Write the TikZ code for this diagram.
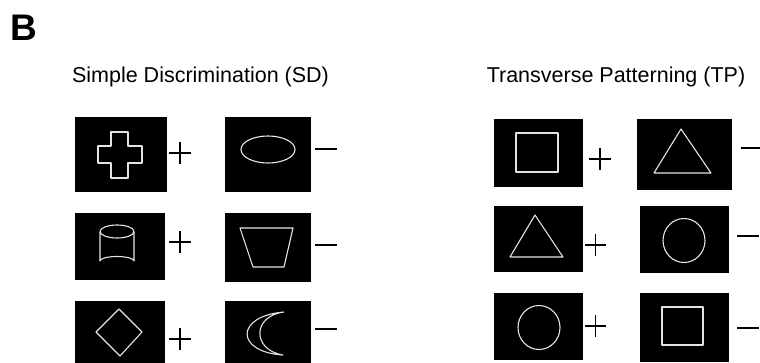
\documentclass[tikz,border=0pt]{standalone}
\usepackage{fontspec}
\setmainfont{Liberation Sans}
\usetikzlibrary{positioning}

\tikzset{
	stimbox/.style={draw=none, fill=black, inner sep=0pt},
	shapeline/.style={draw=black!10, line width=1.1pt, line join=round},
	signnode/.style={inner sep=0pt, minimum width=21pt, minimum height=21pt},
	signline/.style={line width=1.6pt},
	paneltitle/.style={anchor=base, font=\fontsize{21.5}{25}\selectfont}
}

\begin{document}
\begin{tikzpicture}[x=1pt, y=-1pt]
				\useasboundingbox (0,0) rectangle (760,362);
				\clip (0,0) rectangle (760,362);
				
				\node[anchor=base west, inner sep=0pt, font=\fontsize{37}{42}\selectfont\bfseries] (lbl) at (10,40) {B};
				\node[paneltitle] (sdtitle) at (200.5,82.3) {Simple Discrimination (SD)};
				\node[paneltitle] (tptitle) at (616,82.3) {Transverse Patterning (TP)};
				
				\foreach \n/\x/\y/\w/\h in {sdA/121/154.5/92/75, sdB/268/154.5/86/75, sdC/120/246.5/90/67, sdD/268/247.5/86/69, sdE/120/334.5/90/67, sdF/268/335.5/86/69, tpA/538.5/153/89/68, tpB/684.5/154.5/95/71, tpC/538.5/239/89/66, tpD/684.5/239.5/89/67, tpE/538.5/326.5/89/67, tpF/684.5/327.5/89/69}
				\node[stimbox, minimum width=\w pt, minimum height=\h pt] (\n) at (\x,\y) {};
				
				\foreach \n/\x/\y in {plA/180/153, plB/180/242, plC/180/339, plD/600/159, plE/595.5/245, plF/595.5/326}
				{\node[signnode] (\n) at (\x,\y) {};
				\draw[signline] (\n.west) -- (\n.east) (\n.north) -- (\n.south);}
				
				\foreach \n/\x/\y in {miA/326/149, miB/326/245, miC/326/329, miD/752/148, miE/748/236, miF/748/328}
				{\node[signnode] (\n) at (\x,\y) {};
				\draw[signline] (\n.west) -- (\n.east);}
				
				\draw[shapeline] (111,132) -- (128,132) -- (128,146) -- (142,146) -- (142,163) -- (128,163) -- (128,178) -- (111,178) -- (111,163) -- (98,163) -- (98,146) -- (111,146) -- cycle;
				\draw[shapeline] (268,149.5) ellipse [x radius=27, y radius=13.5];
				\draw[shapeline] (117,231.5) ellipse [x radius=17, y radius=6.5];
				\draw[shapeline] (100,231.5) -- (100,261) arc[start angle=180, end angle=360, x radius=17, y radius=4.5] -- (134,231.5);
				\draw[shapeline] (240,228) -- (293,228) -- (284,267) -- (253,267) -- cycle;
				\draw[shapeline] (96,332) -- (119,309) -- (142,332) -- (120,356) -- cycle;
				\draw[shapeline] (284,312) .. controls (235,316) and (235,352) .. (283,355) .. controls (252,350) and (252,316) .. (284,312);
				
				\draw[shapeline] (516,133) rectangle (558,172);
				\draw[shapeline] (681,129) -- (711,173) -- (654,173) -- cycle;
				\draw[shapeline] (535,215) -- (563,257) -- (510,257) -- cycle;
				\draw[shapeline] (684,240.5) ellipse [x radius=21, y radius=22];
				\draw[shapeline] (539,327.5) ellipse [x radius=21, y radius=22];
				\draw[shapeline] (662,307) rectangle (703,345);
			\end{tikzpicture}
\end{document}
